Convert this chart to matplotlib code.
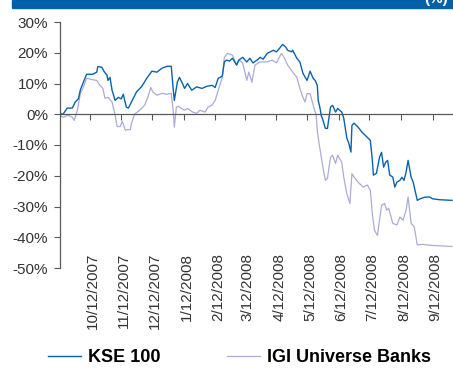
import matplotlib.pyplot as plt
import matplotlib.patches as mpatches
from matplotlib.transforms import ScaledTranslation
import numpy as np
import pandas as pd

plt.rcParams['font.family'] = ['Liberation Sans', 'DejaVu Sans']

start = pd.Timestamp('2007-09-13')

# day offsets from start, and % change
kse_day = [0, 3, 7, 12, 15, 18, 20, 23, 26, 32, 36, 37, 41, 43, 46, 47, 49, 51, 54, 57,
           60, 62, 65, 67, 70, 75, 80, 85, 90, 95, 100, 105, 109, 111, 112, 115, 117, 120,
           122, 125, 129, 134, 139, 144, 149, 152, 155, 159, 161, 163, 166, 169, 173, 175,
           179, 183, 186, 189, 193, 196, 199, 203, 206, 209, 212, 215, 218, 221, 223, 227,
           228, 232, 235, 238, 242, 245, 248, 250, 252, 253, 255, 256, 257, 260, 262, 265,
           267, 270, 272, 276, 278, 281, 283, 285, 286, 288, 292, 296, 301, 304, 306, 307,
           310, 313, 315, 317, 319, 321, 323, 326, 328, 330, 333, 335, 337, 339, 341, 344,
           346, 350, 352, 357, 362, 365, 372, 384]
kse_val = [0.3, 0, 2, 2, 4, 5, 8, 10.5, 13, 13, 13.7, 15.5, 15.3, 14, 12.7, 11, 12, 7.8, 4.5, 5.5,
           5, 6.5, 2.3, 2, 4, 7.3, 9, 11.7, 14, 13.7, 15, 15.6, 15.6, 7.8, 4.5, 10.5, 12, 10,
           8.4, 10, 7.8, 8.9, 8.4, 9.1, 9.4, 8.7, 11.7, 12.4, 17, 17.6, 17.3, 18.2, 16, 17.6,
           18.5, 17, 18.2, 16.7, 17.6, 18.5, 17.9, 19.8, 20.3, 20.8, 20.3, 21.4, 22.7, 21.9, 20.8, 20.3,
           20.8, 18.2, 17, 13.3, 11, 14, 11.7, 11, 9.4, 4.5, 1.5, -0.5, -1.3, -4.6, -4.6, 2.3,
           2.9, 0.7, 1.9, 0.7, -1.3, -7.8, -9.5, -12.3, -3.6, -2.9, -4.2, -5.9, -7.5, -8.5, -15, -19.8,
           -19.2, -14, -12.4, -17.2, -15.6, -15, -19.8, -20.4, -23.7, -22.1, -21.5, -20.5, -21.5, -18.9, -15, -20.5,
           -22.1, -28, -27.6, -27, -26.9, -27.5, -27.8, -28]

igi_day = [0, 3, 8, 12, 14, 17, 20, 23, 26, 31, 36, 39, 42, 44, 47, 51, 54, 56, 59, 61,
           64, 66, 69, 70, 73, 78, 83, 86, 89, 91, 95, 100, 105, 109, 111, 112, 114, 116,
           119, 122, 125, 130, 134, 137, 142, 145, 149, 152, 155, 159, 161, 164, 169, 173,
           176, 179, 183, 185, 188, 191, 196, 203, 208, 212, 217, 220, 223, 228, 232, 235,
           238, 240, 242, 245, 248, 251, 252, 254, 256, 258, 260, 262, 265, 267, 270, 272,
           276, 278, 281, 284, 286, 288, 292, 297, 301, 304, 306, 308, 311, 315, 318, 320,
           322, 326, 330, 333, 336, 339, 341, 344, 347, 350, 355, 362, 384]
igi_val = [-0.3, -1, -0.3, -1, -2, 1.3, 6.8, 8.9, 11.7, 11.3, 11, 9.4, 8.4, 5.2, 5.5, 4, -0.3, -4, -4, -2.3,
           -5.2, -5, -5, -3, 0, 1.3, 3, 5.5, 8.7, 7.2, 6.2, 6.8, 6.5, 6.8, 0.7, -4.2, 2.3, 2.6,
           1.9, 1.3, 1.9, 0.7, 0.3, 1.3, 0.7, 2.3, 3, 4.5, 7.8, 12, 18.5, 19.8, 19.2, 16,
           17.6, 16.6, 11, 13.7, 10.4, 16, 17, 17, 17.6, 16.7, 19.8, 18.2, 16, 13.7, 12, 8.4,
           5.5, 4, 6.7, 6.7, 3, -0.3, -5.2, -10, -14, -18.2, -21.5, -20.8, -14, -13.3, -16, -13.3,
           -15.6, -20.5, -25.8, -29, -19.3, -20.4, -22.1, -23.7, -23, -24.7, -32.3, -37.7, -39.4, -29.6, -29, -31.2,
           -30.6, -35.5, -36, -33.4, -34.5, -31.2, -26.9, -35.5, -36.6, -42.5, -42.3, -42.6, -43]

tick_labels = ['10/12/2007', '11/12/2007', '12/12/2007', '1/12/2008', '2/12/2008', '3/12/2008',
               '4/12/2008', '5/12/2008', '6/12/2008', '7/12/2008', '8/12/2008', '9/12/2008']
y_ticks = [30, 20, 10, 0, -10, -20, -30, -40, -50]

kse_dates = start + pd.to_timedelta(kse_day, unit='D')
igi_dates = start + pd.to_timedelta(igi_day, unit='D')
tick_dates = pd.to_datetime(tick_labels, format='%m/%d/%Y')

fig = plt.figure(figsize=(4.53, 3.68), dpi=100)
ax = fig.add_axes([60/453, 1 - 268/368, 393/453, 246/368])

# header bar
fig.patches.append(mpatches.Rectangle((12/453, 1 - 8/368), 441/453, 8/368,
                                      transform=fig.transFigure, color='#0061A9', zorder=0))
fig.text(0.962, 1 - 3/368, '(%)', color='white', fontsize=11, fontweight='bold',
         ha='center', va='baseline')

gray = '#595959'
ax.plot(igi_dates, igi_val, color='#ABABD6', lw=0.9, label='IGI Universe Banks')
ax.plot(kse_dates, kse_val, color='#0A62AE', lw=1.0, label='KSE 100')

ax.set_xlim(start, start + pd.Timedelta(days=385))
ax.set_ylim(-50, 30)
ax.set_yticks(y_ticks)
ax.set_yticklabels([f'{v}%' for v in y_ticks])
ax.tick_params(axis='y', direction='out', length=4, width=0.8, color=gray,
               labelsize=11, labelcolor='#333333', pad=4.5)

for s in ['top', 'right']:
    ax.spines[s].set_visible(False)
ax.spines['left'].set_color(gray)
ax.spines['left'].set_linewidth(0.9)
ax.spines['bottom'].set_position(('data', 0))
ax.spines['bottom'].set_color(gray)
ax.spines['bottom'].set_linewidth(0.9)

ax.set_xticks(tick_dates)
ax.tick_params(axis='x', direction='out', length=4, width=0.8, color=gray, labelbottom=False)

sec = ax.secondary_xaxis('bottom')
sec.set_xticks(tick_dates)
sec.set_xticklabels(tick_labels, rotation=90, fontsize=11, color='#333333', va='top')
sec.tick_params(length=0, pad=-11)
sec.spines['bottom'].set_visible(False)
shift = ScaledTranslation(3/100, 0, fig.dpi_scale_trans)
for lab in sec.get_xticklabels():
    lab.set_transform(lab.get_transform() + shift)

h, l = ax.get_legend_handles_labels()
fig.legend(h[::-1], l[::-1], loc='center', bbox_to_anchor=(0.529, 0.028), ncol=2,
           frameon=False, prop={'weight': 'bold', 'size': 13}, handlelength=1.8,
           handletextpad=0.4, columnspacing=3.7, borderaxespad=0)

fig.savefig('out.png', dpi=100)
